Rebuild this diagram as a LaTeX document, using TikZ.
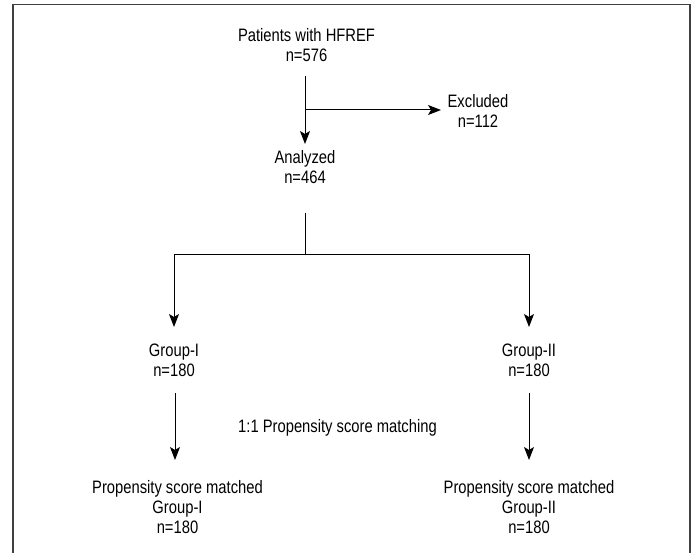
\documentclass[tikz,border=0pt]{standalone}
\usepackage{fontspec}
\setmainfont{Liberation Sans}[FakeStretch=0.82]
\usetikzlibrary{arrows.meta}
\begin{document}
\begin{tikzpicture}[x=1pt,y=-1pt,
  lbl/.style={align=center,font=\fontsize{18}{20}\selectfont,inner sep=0pt},
  arr/.style={-{Stealth[length=13pt,width=10pt,inset=3pt]},line width=1pt},
  ln/.style={line width=1pt}]
\useasboundingbox (0,0) rectangle (696,553);
\draw[line width=1.3pt,black!75] (13,553) -- (13,4.5) -- (690,4.5) -- (690,553);
\node[lbl] (p) at (306.5,45.5) {Patients with HFREF\\n=576};
\node[lbl] (ex) at (478,111) {Excluded\\n=112};
\node[lbl] (an) at (305,167.5) {Analyzed\\n=464};
\node[lbl] (g1) at (174,360) {Group-I\\n=180};
\node[lbl] (g2) at (529,360) {Group-II\\n=180};
\node[lbl] (pm) at (337.5,428) {1:1 Propensity score matching};
\node[lbl] (m1) at (177.5,507.5) {Propensity score matched\\Group-I\\n=180};
\node[lbl] (m2) at (529,507.5) {Propensity score matched\\Group-II\\n=180};
\coordinate (b1) at (305,110);
\coordinate (b2) at (305,255);
\draw[arr] (305,76) -- (305,144);
\draw[arr] (b1) -- (441,110);
\draw[ln] (305,213) -- (b2);
\draw[arr] (b2) -| (174,327);
\draw[arr] (b2) -| (529,327);
\draw[arr] (175,393) -- (175,460);
\draw[arr] (529,393) -- (529,460);
\end{tikzpicture}
\end{document}
